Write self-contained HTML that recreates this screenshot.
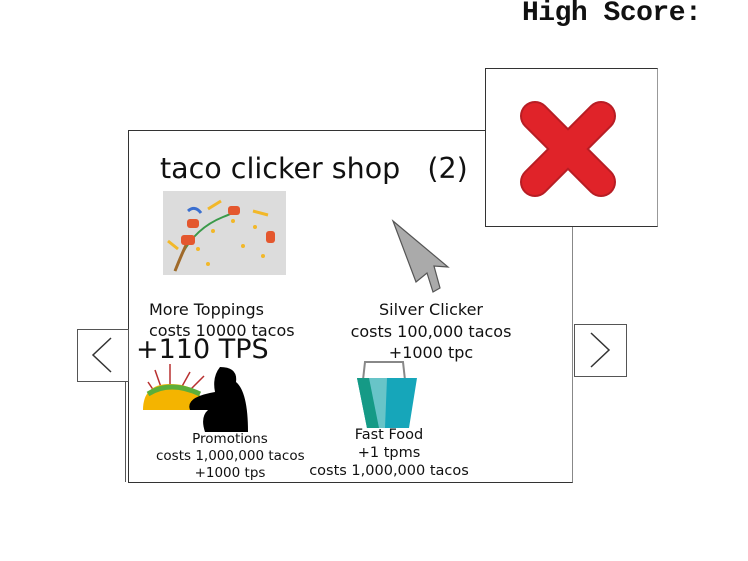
<!DOCTYPE html>
<html><head><style>
body{margin:0;width:748px;height:561px;background:#fff;position:relative;overflow:hidden;font-family:"DejaVu Sans","Liberation Sans",sans-serif;color:#111}
.a{position:absolute}
.t{position:absolute;white-space:nowrap;text-align:center}
</style></head><body>
<div class="t" style="left:522px;top:-2px;font-family:'Liberation Mono',monospace;font-size:28px;font-weight:bold;letter-spacing:-0.5px">High Score:</div>
<div class="a" style="left:128px;top:130px;width:443px;height:351px;border:1.5px solid #333;border-right-color:#888"></div>
<div class="a" style="left:125px;top:380px;width:2px;height:102px;border-left:1px solid #555"></div>
<div class="a" style="left:485px;top:68px;width:171px;height:157px;border:1px solid #333;border-right-color:#999;background:#fff"></div>
<svg class="a" style="left:485px;top:68px" width="172" height="158"><g stroke="#b81d24" stroke-width="30" stroke-linecap="round"><line x1="50" y1="48" x2="116" y2="114"/><line x1="116" y1="48" x2="50" y2="114"/></g><g stroke="#e02329" stroke-width="26" stroke-linecap="round"><line x1="50" y1="48" x2="116" y2="114"/><line x1="116" y1="48" x2="50" y2="114"/></g></svg>
<div class="t" style="left:160px;top:152px;font-size:28.5px">taco clicker shop&nbsp;&nbsp;&nbsp;(2)</div>
<svg class="a" style="left:163px;top:191px" width="123" height="84"><rect width="123" height="84" fill="#dcdcdc"/><path d="M12 80 Q25 40 60 26 Q80 18 70 20" stroke="#3a9a4a" stroke-width="2" fill="none"/><path d="M12 80 Q20 60 25 50" stroke="#a06a2a" stroke-width="3" fill="none"/><rect x="18" y="44" width="14" height="10" rx="3" fill="#e4572e"/><rect x="24" y="28" width="12" height="9" rx="3" fill="#e4572e"/><rect x="65" y="15" width="12" height="9" rx="3" fill="#e4572e"/><rect x="103" y="40" width="9" height="12" rx="3" fill="#e4572e"/><g fill="#f2b829"><circle cx="50" cy="40" r="2"/><circle cx="70" cy="30" r="2"/><circle cx="92" cy="36" r="2"/><circle cx="80" cy="55" r="2"/><circle cx="45" cy="73" r="2"/><circle cx="100" cy="65" r="2"/><circle cx="35" cy="58" r="2"/></g><path d="M45 18 L58 10 M90 20 L105 24 M5 50 L15 58" stroke="#f2b829" stroke-width="3"/><path d="M25 20 Q32 14 38 22" stroke="#3a6fd0" stroke-width="3" fill="none"/></svg>
<svg class="a" style="left:390px;top:218px" width="65" height="80"><polygon points="3,3 58,49 44,48 50,70 43,74 37,55 26,64" fill="#aaa" stroke="#555" stroke-width="1.2"/></svg>
<div class="t" style="left:149px;top:299px;font-size:16px;text-align:left;line-height:21px">More Toppings<br>costs 10000 tacos</div>
<div class="t" style="left:343px;top:299px;width:176px;font-size:16px;line-height:21.5px">Silver Clicker<br>costs 100,000 tacos<br>+1000 tpc</div>
<div class="t" style="left:136px;top:334px;font-size:27px">+110 TPS</div>
<div class="a" style="left:77px;top:329px;width:50px;height:51px;border:1px solid #555;background:#fff"></div>
<svg class="a" style="left:77px;top:329px" width="52" height="52"><polyline points="34,9 16,26 34,43" stroke="#333" stroke-width="1.5" fill="none"/></svg>
<div class="a" style="left:574px;top:324px;width:51px;height:51px;border:1px solid #555;background:#fff"></div>
<svg class="a" style="left:574px;top:324px" width="52" height="52"><polyline points="17,9 35,26 17,43" stroke="#333" stroke-width="1.5" fill="none"/></svg>
<svg class="a" style="left:140px;top:362px" width="112" height="72"><g stroke="#b83030" stroke-width="1.5"><line x1="8" y1="20" x2="16" y2="32"/><line x1="15" y1="8" x2="22" y2="28"/><line x1="30" y1="2" x2="30" y2="26"/><line x1="50" y1="10" x2="40" y2="28"/><line x1="64" y1="14" x2="50" y2="28"/></g><path d="M3 48 Q3 22 30 22 Q60 22 65 45 L55 48 Z" fill="#f4b400"/><path d="M8 32 Q30 18 60 32" stroke="#5cae3a" stroke-width="5" fill="none"/><path d="M80 5 Q98 5 96 20 Q108 30 108 70 L65 70 Q60 55 68 48 L50 48 Q45 35 75 30 Q72 15 80 5 Z" fill="#000"/></svg>
<div class="t" style="left:156px;top:431px;width:148px;font-size:13.5px;line-height:17px">Promotions<br>costs 1,000,000 tacos<br>+1000 tps</div>
<svg class="a" style="left:355px;top:360px" width="64" height="72"><path d="M8 20 L10 2 L48 2 L50 20" stroke="#888" stroke-width="2" fill="none"/><polygon points="2,18 62,18 54,68 12,68" fill="#16a6ba"/><polygon points="2,18 32,18 30,68 12,68" fill="#68c4c8"/><polygon points="2,18 14,18 24,68 12,68" fill="#159a86"/></svg>
<div class="t" style="left:308px;top:426px;width:162px;font-size:14.5px;line-height:18px">Fast Food<br>+1 tpms<br>costs 1,000,000 tacos</div>
</body></html>
